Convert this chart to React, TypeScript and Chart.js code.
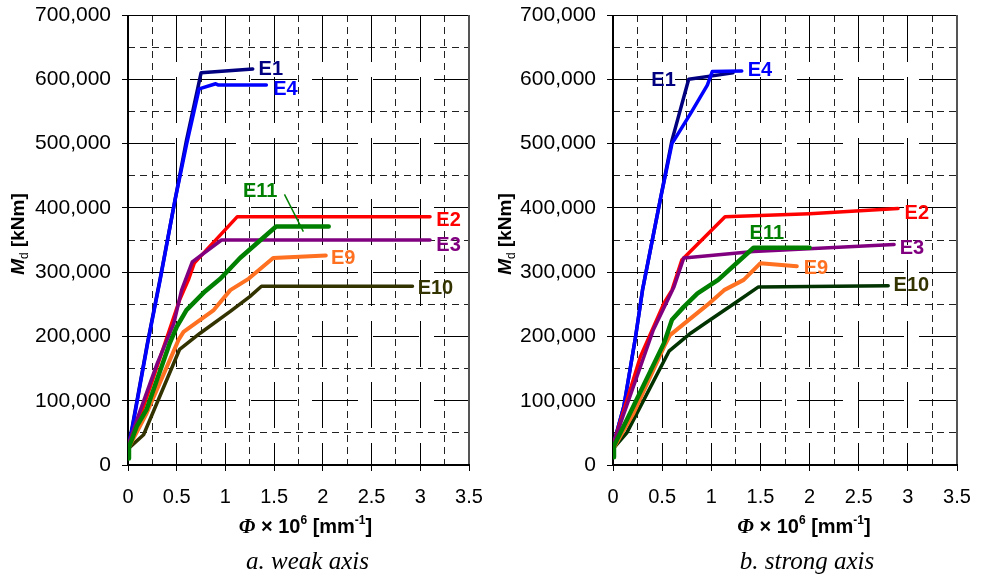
import React, { useEffect, useRef } from 'react';
import { Chart, registerables } from 'chart.js';

Chart.register(...registerables);

type Pt = [number, number];

// ---------- tick labels ----------
const PHI_TICKS = ['0', '0.5', '1', '1.5', '2', '2.5', '3', '3.5'];
const M_TICKS = ['0', '100,000', '200,000', '300,000', '400,000', '500,000', '600,000', '700,000'];
const SERIES = ['E1', 'E4', 'E2', 'E3', 'E11', 'E9', 'E10'];

// ---------- a. weak axis : [phi x 1e6, Md kNm] ----------
const weakE1: Pt[] = [[0, 25000], [0.05, 65000], [0.2, 190000], [0.33, 290000], [0.48, 410000], [0.6, 505000], [0.75, 610000], [1.28, 616000]];
const weakE4: Pt[] = [[0, 25000], [0.05, 62000], [0.2, 188000], [0.33, 288000], [0.48, 410000], [0.6, 498000], [0.73, 585000], [0.9, 593000], [0.93, 591000], [1.42, 591000]];
const weakE2: Pt[] = [[0, 30000], [0.16, 91000], [0.53, 257000], [0.62, 288000], [0.68, 314000], [1.12, 386000], [3.1, 386000]];
const weakE3: Pt[] = [[0, 30000], [0.09, 70000], [0.3, 158000], [0.47, 220000], [0.55, 272000], [0.66, 316000], [0.96, 350000], [3.1, 350000]];
const weakE11: Pt[] = [[0, 10000], [0.01, 28000], [0.09, 60000], [0.19, 86000], [0.43, 190000], [0.5, 215000], [0.6, 241000], [0.79, 270000], [0.95, 290000], [1.15, 322000], [1.52, 371000], [2.06, 371000]];
const weakE9: Pt[] = [[0, 25000], [0.19, 80000], [0.52, 195000], [0.57, 207000], [0.88, 241000], [1.05, 272000], [1.24, 290000], [1.49, 322000], [2.03, 326000]];
const weakE10: Pt[] = [[0, 25000], [0.16, 47000], [0.53, 180000], [0.74, 205000], [1.05, 239000], [1.25, 262000], [1.37, 278000], [2.92, 278000]];

// ---------- b. strong axis ----------
const strongE1: Pt[] = [[0, 30000], [0.11, 91000], [0.23, 200000], [0.3, 272000], [0.48, 412000], [0.6, 505000], [0.77, 600000], [1.22, 610000]];
const strongE4: Pt[] = [[0, 30000], [0.11, 91000], [0.23, 200000], [0.3, 272000], [0.48, 412000], [0.6, 500000], [0.79, 547000], [0.96, 591000], [1.01, 612000], [1.31, 613000]];
const strongE2: Pt[] = [[0, 30000], [0.1, 80000], [0.28, 169000], [0.52, 252000], [0.6, 272000], [0.7, 319000], [1.14, 386000], [2.0, 391000], [2.9, 399000]];
const strongE3: Pt[] = [[0, 30000], [0.1, 75000], [0.41, 210000], [0.62, 277000], [0.72, 322000], [1.43, 332000], [2.86, 343000]];
const strongE11: Pt[] = [[0, 12000], [0.01, 30000], [0.14, 70000], [0.52, 190000], [0.6, 226000], [0.72, 246000], [0.86, 267000], [1.07, 288000], [1.43, 338000], [2.0, 338000]];
const strongE9: Pt[] = [[0, 25000], [0.21, 81000], [0.52, 184000], [0.58, 202000], [0.96, 249000], [1.13, 272000], [1.33, 288000], [1.5, 314000], [1.87, 309000]];
const strongE10: Pt[] = [[0, 25000], [0.14, 50000], [0.57, 177000], [0.79, 205000], [0.99, 226000], [1.26, 254000], [1.48, 277000], [2.8, 279000]];

// label anchors (left edge, vertical middle) in data units
const weakLabelAt: Pt[] = [[1.34, 616000], [1.49, 584000], [3.165, 380000], [3.165, 342000], [1.18, 425000], [2.083, 322000], [2.973, 274000]];
const strongLabelAt: Pt[] = [[0.39, 598000], [1.37, 613000], [2.967, 392000], [2.917, 337000], [1.39, 360000], [1.94, 306000], [2.855, 278500]];
// E11 leader line (weak axis)
const weakLeader: Pt[] = [[1.606, 421000], [1.8, 363000]];

const SANS = "'Liberation Sans', Arial, sans-serif";
const SERIF = "'Liberation Serif', 'Times New Roman', serif";
const LABEL_COLORS = ['#000080', '#0000ff', '#ff0000', '#800080', '#008000', '#ff7020', '#333300'];
const ORDER = [6, 5, 4, 3, 0, 1, 2];

type Cfg = {
  series: Pt[][];
  lineColors: string[];
  widths: number[];
  labels: Pt[];
  leader?: Pt[];
  yAxisW: number;
  padRight: number;
  yTitleX: number;
  titleDX: number;
  captionDX: number;
  caption: string;
};

const weakCfg: Cfg = {
  series: [weakE1, weakE4, weakE2, weakE3, weakE11, weakE9, weakE10],
  lineColors: ['#000080', '#0000ff', '#ff0000', '#800080', '#008000', '#ff7020', '#333300'],
  widths: [3.5, 3.5, 3.5, 3.5, 4.5, 4, 3.5],
  labels: weakLabelAt,
  leader: weakLeader,
  yAxisW: 128,
  padRight: 22,
  yTitleX: 17,
  titleDX: 7,
  captionDX: 9,
  caption: 'a. weak axis',
};

const strongCfg: Cfg = {
  series: [strongE1, strongE4, strongE2, strongE3, strongE11, strongE9, strongE10],
  lineColors: ['#000080', '#0000ff', '#ff0000', '#800080', '#008000', '#ff7020', '#003300'],
  widths: [3.5, 3.5, 3.5, 3.5, 4.5, 4, 3.5],
  labels: strongLabelAt,
  yAxisW: 122,
  padRight: 25,
  yTitleX: 13,
  titleDX: 19,
  captionDX: 22,
  caption: 'b. strong axis',
};

type Run = { t: string; f: string; dy?: number };

function drawRuns(ctx: CanvasRenderingContext2D, runs: Run[], cx: number, baseY: number) {
  const widths = runs.map((r) => {
    ctx.font = r.f;
    return ctx.measureText(r.t).width;
  });
  const total = widths.reduce((a, b) => a + b, 0);
  let x = cx - total / 2;
  ctx.textAlign = 'left';
  ctx.textBaseline = 'alphabetic';
  runs.forEach((r, i) => {
    ctx.font = r.f;
    ctx.fillText(r.t, x, baseY + (r.dy || 0));
    x += widths[i];
  });
}

function makePlugin(cfg: Cfg) {
  return {
    id: 'decor',
    beforeDatasetsDraw(chart: any) {
      const { ctx, chartArea: a, scales } = chart;
      const xs = scales.x;
      const ys = scales.y;
      const snap = (p: number) => Math.round(p - 0.5) + 0.5;
      ctx.save();
      ctx.strokeStyle = '#000';
      ctx.lineWidth = 1;
      const seg = (x1: number, y1: number, x2: number, y2: number) => {
        ctx.beginPath();
        ctx.moveTo(x1, y1);
        ctx.lineTo(x2, y2);
        ctx.stroke();
      };
      // minor dashed grid
      ctx.setLineDash([7, 5]);
      ctx.lineDashOffset = 0;
      ctx.strokeStyle = '#222';
      for (let v = 0.25; v < 3.5; v += 0.5) {
        const px = snap(xs.getPixelForValue(v));
        seg(px, a.top, px, a.bottom);
      }
      for (let m = 50000; m < 700000; m += 100000) {
        const py = snap(ys.getPixelForValue(m));
        seg(a.left, py, a.right, py);
      }
      // major long-dash grid
      ctx.strokeStyle = '#000';
      ctx.setLineDash([46, 15]);
      ctx.lineDashOffset = 60;
      for (let v = 0.5; v < 3.5; v += 0.5) {
        const px = snap(xs.getPixelForValue(v));
        seg(px, a.top, px, a.bottom);
      }
      for (let m = 100000; m < 700000; m += 100000) {
        const py = snap(ys.getPixelForValue(m));
        seg(a.left, py, a.right, py);
      }
      // tick marks
      ctx.setLineDash([]);
      ctx.lineDashOffset = 0;
      for (let v = 0; v <= 3.5; v += 0.5) {
        const px = snap(xs.getPixelForValue(v));
        seg(px, a.bottom, px, a.bottom + 6);
      }
      for (let m = 0; m <= 700000; m += 100000) {
        const py = snap(ys.getPixelForValue(m));
        seg(a.left - 6, py, a.left, py);
      }
      // frame
      ctx.strokeStyle = '#000';
      ctx.lineWidth = 1;
      seg(a.left, snap(a.top), a.right, snap(a.top));
      ctx.lineWidth = 2;
      ctx.strokeStyle = '#555';
      seg(Math.round(a.right), a.top, Math.round(a.right), a.bottom);
      ctx.strokeStyle = '#000';
      seg(a.left - 1, Math.round(a.bottom), a.right + 1, Math.round(a.bottom));
      seg(Math.round(a.left), a.top, Math.round(a.left), a.bottom + 1);
      ctx.restore();
    },
    afterDatasetsDraw(chart: any) {
      const { ctx, chartArea: a, scales } = chart;
      const xs = scales.x;
      const ys = scales.y;
      ctx.save();
      // leader line
      if (cfg.leader) {
        ctx.strokeStyle = '#008000';
        ctx.lineWidth = 1.5;
        ctx.beginPath();
        ctx.moveTo(xs.getPixelForValue(cfg.leader[0][0]), ys.getPixelForValue(cfg.leader[0][1]));
        ctx.lineTo(xs.getPixelForValue(cfg.leader[1][0]), ys.getPixelForValue(cfg.leader[1][1]));
        ctx.stroke();
      }
      // series labels
      ctx.font = `bold 20px ${SANS}`;
      ctx.textAlign = 'left';
      ctx.textBaseline = 'middle';
      SERIES.forEach((name, i) => {
        ctx.fillStyle = LABEL_COLORS[i];
        ctx.fillText(name, xs.getPixelForValue(cfg.labels[i][0]), ys.getPixelForValue(cfg.labels[i][1]));
      });
      ctx.fillStyle = '#000';
      // x title
      const cx = (a.left + a.right) / 2;
      const B = `bold 20px ${SANS}`;
      const S = `bold 12px ${SANS}`;
      drawRuns(ctx, [
        { t: 'Φ', f: `italic bold 21px ${SERIF}` },
        { t: ' × 10', f: B },
        { t: '6', f: S, dy: -9 },
        { t: ' [mm', f: B },
        { t: '-1', f: S, dy: -9 },
        { t: ']', f: B },
      ], cx + cfg.titleDX, a.bottom + 68);
      // y title (rotated)
      ctx.save();
      ctx.translate(cfg.yTitleX, (a.top + a.bottom) / 2 - 6);
      ctx.rotate(-Math.PI / 2);
      drawRuns(ctx, [
        { t: 'M', f: `italic bold 19px ${SANS}` },
        { t: 'd', f: `12px ${SANS}`, dy: 4 },
        { t: ' [kNm]', f: `bold 19px ${SANS}` },
      ], 0, 7);
      ctx.restore();
      // caption
      drawRuns(ctx, [{ t: cfg.caption, f: `italic 25px ${SERIF}` }], cx + cfg.captionDX, a.bottom + 104);
      ctx.restore();
    },
  };
}

function Panel({ cfg }: { cfg: Cfg }) {
  const ref = useRef<HTMLCanvasElement | null>(null);
  useEffect(() => {
    if (!ref.current) return;
    const chart = new Chart(ref.current, {
      type: 'line',
      data: {
        datasets: cfg.series.map((pts, i) => ({
          label: SERIES[i],
          data: pts.map(([x, y]) => ({ x, y })),
          borderColor: cfg.lineColors[i],
          backgroundColor: cfg.lineColors[i],
          borderWidth: cfg.widths[i],
          pointRadius: 0,
          tension: 0,
          fill: false,
          order: ORDER[i],
          borderJoinStyle: 'round',
          borderCapStyle: 'round',
        })),
      },
      options: {
        responsive: false,
        animation: false,
        devicePixelRatio: 1,
        layout: { padding: { left: 0, right: cfg.padRight, top: 15, bottom: 0 } },
        plugins: {
          legend: { display: false },
          tooltip: { enabled: false },
          title: { display: false },
        },
        scales: {
          x: {
            type: 'linear',
            min: 0,
            max: 3.5,
            border: { display: false },
            grid: { display: true, drawOnChartArea: false, drawTicks: true, tickLength: 20, tickColor: 'rgba(0,0,0,0)', color: 'rgba(0,0,0,0)' },
            ticks: {
              stepSize: 0.5,
              autoSkip: false,
              maxRotation: 0,
              padding: 0,
              color: '#000',
              font: { family: SANS, size: 20 },
              callback: (_v: any, i: number) => PHI_TICKS[i],
            },
            afterFit: (s: any) => {
              s.height = 113;
            },
          },
          y: {
            type: 'linear',
            min: 0,
            max: 700000,
            border: { display: false },
            grid: { display: true, drawOnChartArea: false, drawTicks: true, tickLength: 17, tickColor: 'rgba(0,0,0,0)', color: 'rgba(0,0,0,0)' },
            ticks: {
              stepSize: 100000,
              autoSkip: false,
              padding: 0,
              color: '#000',
              font: { family: SANS, size: 21 },
              callback: (_v: any, i: number) => M_TICKS[i],
            },
            afterFit: (s: any) => {
              s.width = cfg.yAxisW;
            },
          },
        },
      } as any,
      plugins: [makePlugin(cfg)],
    });
    return () => chart.destroy();
  }, [cfg]);
  return <canvas ref={ref} width={491} height={578} style={{ width: 491, height: 578, display: 'block' }} />;
}

export default function App() {
  return (
    <div style={{ position: 'fixed', left: 0, top: 0, width: 982, height: 578, background: '#fff', display: 'flex' }}>
      <Panel cfg={weakCfg} />
      <Panel cfg={strongCfg} />
    </div>
  );
}
